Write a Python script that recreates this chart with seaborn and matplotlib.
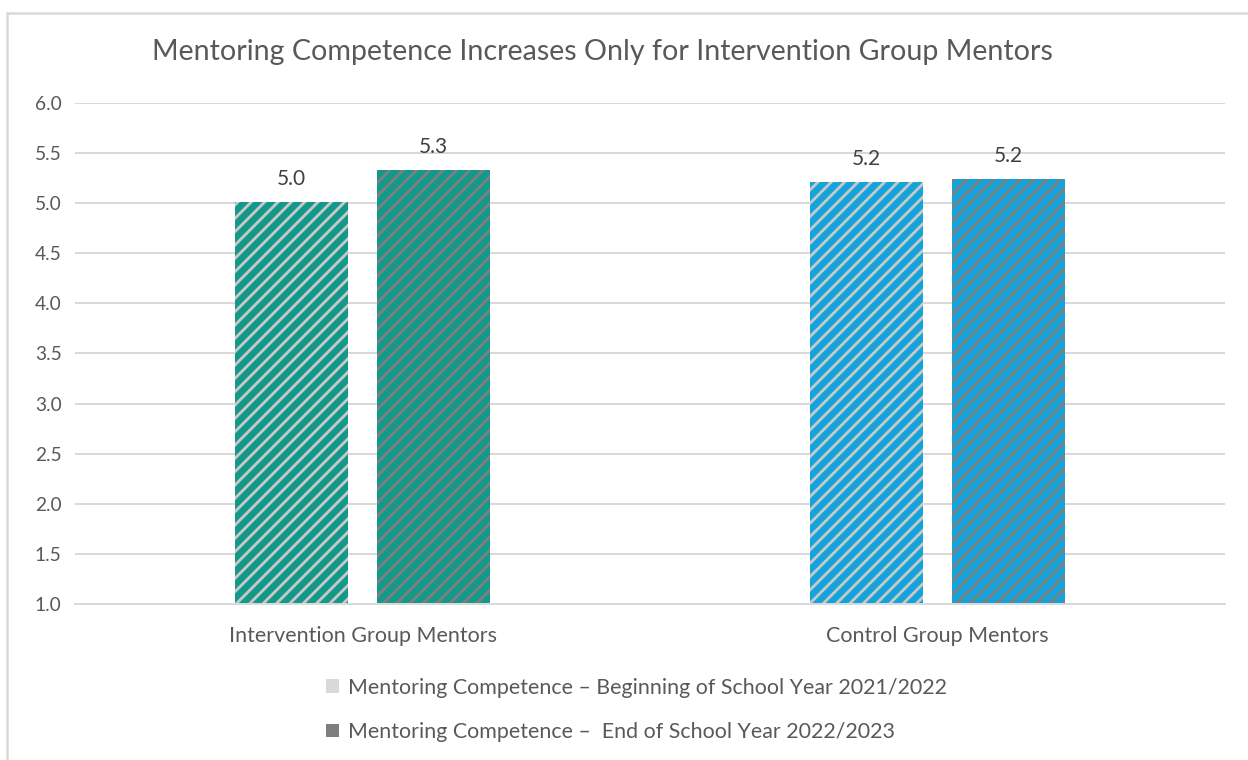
import matplotlib
matplotlib.use("Agg")
import matplotlib.pyplot as plt
import seaborn as sns
import pandas as pd
from matplotlib.patches import Patch
from matplotlib.lines import Line2D

groups = ["Intervention Group Mentors", "Control Group Mentors"]
periods = ["Mentoring Competence \u2013 Beginning of School Year 2021/2022",
           "Mentoring Competence \u2013  End of School Year 2022/2023"]
begin_values = [5.01, 5.21]
end_values = [5.33, 5.24]
value_labels_begin = ["5.0", "5.2"]
value_labels_end = ["5.3", "5.2"]
y_ticks = [1.0, 1.5, 2.0, 2.5, 3.0, 3.5, 4.0, 4.5, 5.0, 5.5, 6.0]
title = "Mentoring Competence Increases Only for Intervention Group Mentors"

group_colors = ["#13998A", "#14A3DA"]
hatch_colors = ["#C8C8C8", "#7F7F7F"]
legend_colors = ["#D9D9D9", "#7F7F7F"]

df = pd.DataFrame({
    "group": groups + groups,
    "period": [periods[0]] * 2 + [periods[1]] * 2,
    "value": begin_values + end_values,
})

sns.set_theme(style="white")
plt.rcParams["font.family"] = ["Lato", "DejaVu Sans"]
plt.rcParams["hatch.linewidth"] = 1.7

fig = plt.figure(figsize=(10.4, 760 / 120), dpi=120)
ax = fig.add_axes([0.0601, 0.2053, 0.9215, 0.6592])

sns.barplot(data=df, x="group", y="value", hue="period", order=groups,
            hue_order=periods, width=0.494, gap=0.2, legend=False, ax=ax,
            err_kws={"linewidth": 0})

labels_all = [value_labels_begin, value_labels_end]
for hi, cont in enumerate(ax.containers):
    for gi, bar in enumerate(cont):
        bar.set_facecolor(group_colors[gi])
        bar.set_edgecolor(hatch_colors[hi])
        bar.set_hatch("///")
        bar.set_linewidth(0)
        ax.annotate(labels_all[hi][gi],
                    (bar.get_x() + bar.get_width() / 2, bar.get_height()),
                    xytext=(0, 14), textcoords="offset points",
                    ha="center", va="center", fontsize=12.5, color="#404040")

ax.set_ylim(1.0, 6.0)
ax.set_yticks(y_ticks)
ax.set_yticklabels([f"{v:.1f}" for v in y_ticks])
ax.set_xlim(-0.5, 1.5)
ax.grid(axis="y", color="#D9D9D9", linewidth=1.2)
ax.set_axisbelow(True)
for s in ["top", "right", "left"]:
    ax.spines[s].set_visible(False)
ax.spines["bottom"].set_color("#D9D9D9")
ax.spines["bottom"].set_linewidth(1.2)
ax.tick_params(axis="y", length=0, pad=8, labelsize=11.5, labelcolor="#595959")
ax.tick_params(axis="x", length=0, pad=13, labelsize=12.9, labelcolor="#595959")
ax.set_xlabel("")
ax.set_ylabel("")

fig.text(0.483, 0.931, title, ha="center", va="center", fontsize=17.2, color="#595959")

handles = [Patch(facecolor=c, edgecolor="none") for c in legend_colors]
fig.legend(handles, periods, loc="center", bbox_to_anchor=(0.51, 0.066),
           frameon=False, fontsize=12.8, labelcolor="#595959",
           handlelength=0.6, handleheight=0.6, handletextpad=0.4,
           labelspacing=1.15, alignment="left")

fig.add_artist(Line2D([7 / 1248, 1.0], [1 - 13 / 760, 1 - 13 / 760],
                      transform=fig.transFigure, color="#D9D9D9", linewidth=1.5))
fig.add_artist(Line2D([7 / 1248, 7 / 1248], [0, 1 - 13 / 760],
                      transform=fig.transFigure, color="#D9D9D9", linewidth=1.5))

fig.savefig("out.png", dpi=120, facecolor="white")
